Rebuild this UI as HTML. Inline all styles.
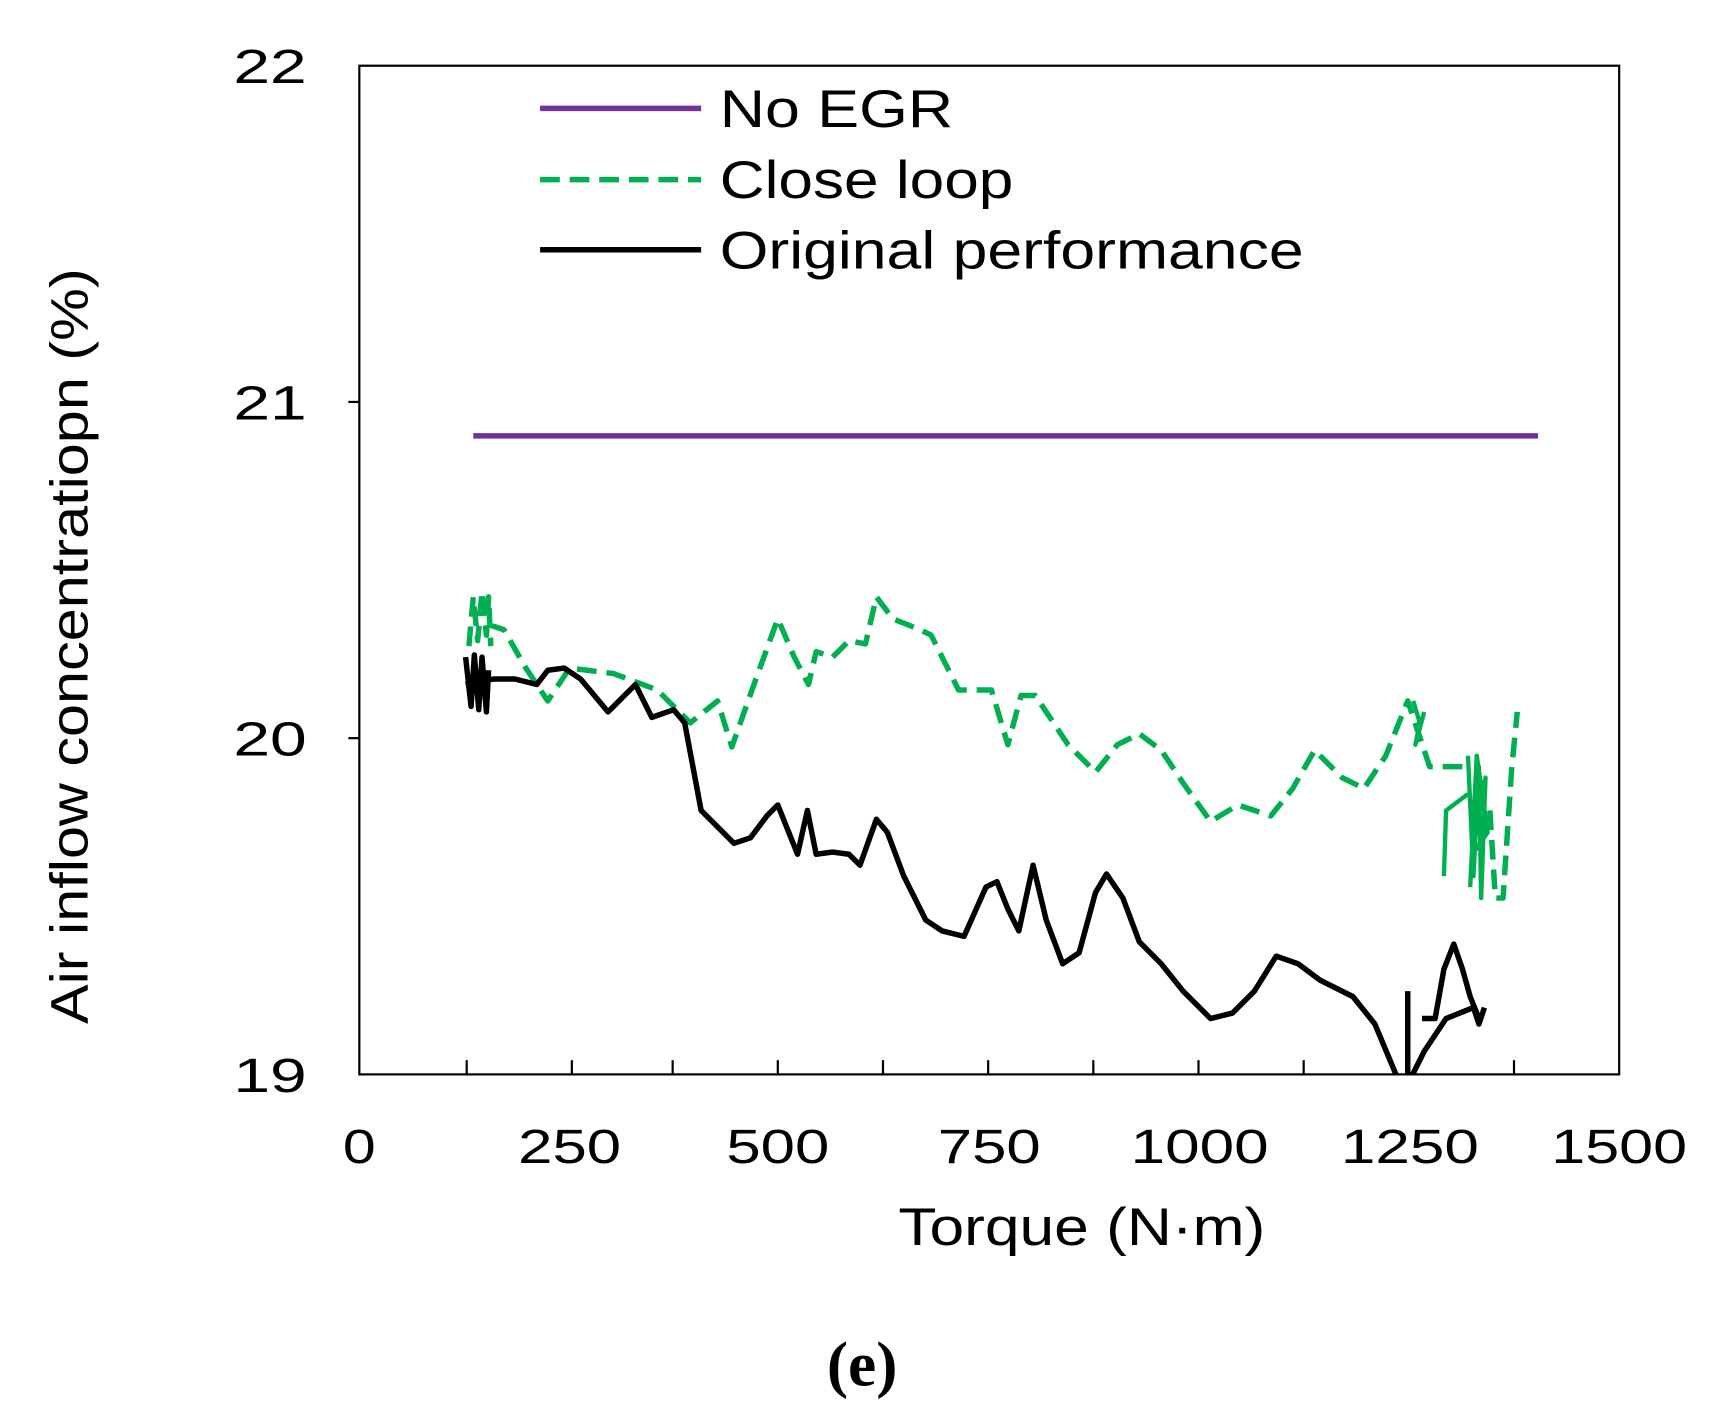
<!DOCTYPE html>
<html><head><style>html,body{margin:0;padding:0;background:#fff}svg{display:block}</style></head>
<body>
<svg width="1709" height="1415" viewBox="0 0 1560 1292" preserveAspectRatio="none" xmlns="http://www.w3.org/2000/svg" font-family="Liberation Sans, sans-serif">
<defs><clipPath id="c"><rect x="328" y="60" width="1150" height="921"/></clipPath></defs>
<rect x="328" y="60" width="1150" height="921" fill="none" stroke="#000" stroke-width="2"/>
<g stroke="#000" stroke-width="2">
<line x1="318" y1="367" x2="328" y2="367"/><line x1="318" y1="674" x2="328" y2="674"/>
<line x1="426" y1="981" x2="426" y2="968"/><line x1="522" y1="981" x2="522" y2="968"/><line x1="614" y1="981" x2="614" y2="968"/><line x1="710" y1="981" x2="710" y2="968"/><line x1="806" y1="981" x2="806" y2="968"/><line x1="902" y1="981" x2="902" y2="968"/><line x1="998" y1="981" x2="998" y2="968"/><line x1="1094" y1="981" x2="1094" y2="968"/><line x1="1190" y1="981" x2="1190" y2="968"/><line x1="1286" y1="981" x2="1286" y2="968"/><line x1="1382" y1="981" x2="1382" y2="968"/>
</g>
<g font-size="44" fill="#000" lengthAdjust="spacingAndGlyphs">
<text x="213" y="76" textLength="67" lengthAdjust="spacingAndGlyphs">22</text><text x="213" y="383" textLength="67" lengthAdjust="spacingAndGlyphs">21</text><text x="213" y="690" textLength="67" lengthAdjust="spacingAndGlyphs">20</text><text x="213" y="997" textLength="67" lengthAdjust="spacingAndGlyphs">19</text>
</g>
<g font-size="44" fill="#000">
<text x="313" y="1062" textLength="30" lengthAdjust="spacingAndGlyphs">0</text>
<text x="473" y="1062" textLength="94" lengthAdjust="spacingAndGlyphs">250</text>
<text x="663" y="1062" textLength="94" lengthAdjust="spacingAndGlyphs">500</text>
<text x="856" y="1062" textLength="94" lengthAdjust="spacingAndGlyphs">750</text>
<text x="1032" y="1062" textLength="126" lengthAdjust="spacingAndGlyphs">1000</text>
<text x="1224" y="1062" textLength="126" lengthAdjust="spacingAndGlyphs">1250</text>
<text x="1416" y="1062" textLength="124" lengthAdjust="spacingAndGlyphs">1500</text>
</g>
<text x="820" y="1137" font-size="48" textLength="335" lengthAdjust="spacingAndGlyphs">Torque (N·m)</text>
<text transform="translate(80,935) rotate(-90)" font-size="48" textLength="690" lengthAdjust="spacingAndGlyphs">Air inflow concentratiopn (%)</text>
<text x="787" y="1265" font-size="58" font-weight="bold" text-anchor="middle" font-family="Liberation Serif, serif">(e)</text>
<line x1="493" y1="99" x2="640" y2="99" stroke="#7030a0" stroke-width="5"/>
<line x1="493" y1="164" x2="640" y2="164" stroke="#00b050" stroke-width="5" stroke-dasharray="18,9"/>
<line x1="493" y1="228" x2="640" y2="228" stroke="#000" stroke-width="5"/>
<g font-size="48" fill="#000"><text x="657" y="116" textLength="213" lengthAdjust="spacingAndGlyphs">No EGR</text><text x="657" y="181" textLength="268" lengthAdjust="spacingAndGlyphs">Close loop</text><text x="657" y="245" textLength="533" lengthAdjust="spacingAndGlyphs">Original performance</text></g>
<g clip-path="url(#c)" fill="none" stroke-linejoin="round">
<line x1="432" y1="398" x2="1404" y2="398" stroke="#7030a0" stroke-width="5"/>
<path stroke="#00b050" stroke-width="5" d="M428,590 L432,545 L436,585 L440,540 L444,580 L446,545 L448,590 M445,570 L460,575 L480,610 L500,640 L520,610 L560,615 L600,630 L630,660 L655,640 L668,682 L690,620 L710,565 L725,600 L738,625 L745,595 L760,600 L775,585 L790,588 L800,545 L815,565 L840,575 L850,580 L875,630 L905,630 L920,680 L932,635 L945,635 L975,680 L1000,705 L1020,680 L1040,670 L1060,685 L1080,715 L1105,750 L1130,735 L1160,745 L1180,720 L1200,685 L1225,710 L1245,720 L1265,690 L1285,640 L1295,670 L1305,700 L1335,700" stroke-dasharray="18,9"/>
<path stroke="#00b050" stroke-width="4" d="M1290,640 L1296,660 L1292,680 L1300,650 M1340,690 L1345,800 L1350,700 L1352,820 L1356,710 L1344,780 L1358,760 L1348,690 L1342,810 M1318,800 L1320,740 L1340,725"/>
<path stroke="#00b050" stroke-width="5" stroke-dasharray="18,9" d="M1360,740 L1365,820 L1372,820 L1380,700 L1385,650"/>
<path stroke="#000" stroke-width="5" d="M425,600 L430,645 L433,598 L437,648 L440,600 L444,650 L446,612 M425,625 L450,620 L470,620 L490,625 L500,612 L515,610 L530,620 L555,650 L580,625 L595,655 L615,648 L625,660 L640,740 L660,760 L670,770 L685,765 L700,745 L710,735 L720,760 L728,780 L737,740 L745,780 L760,778 L775,780 L785,790 L800,748 L810,760 L825,800 L845,840 L860,850 L880,855 L900,810 L910,805 L920,830 L930,850 L943,790 L955,840 L970,880 L985,870 L1000,815 L1010,798 L1025,820 L1040,860 L1060,880 L1080,905 L1105,930 L1125,925 L1145,905 L1165,873 L1185,880 L1205,895 L1235,910 L1255,935 L1278,990 M1285,905 L1285,995 M1285,990 L1300,960 L1320,930 L1345,920 L1350,935 L1355,920 M1298,930 L1310,930 L1318,885 L1327,862 L1335,885 L1342,910 L1350,930"/>
</g>
</svg>
</body></html>
